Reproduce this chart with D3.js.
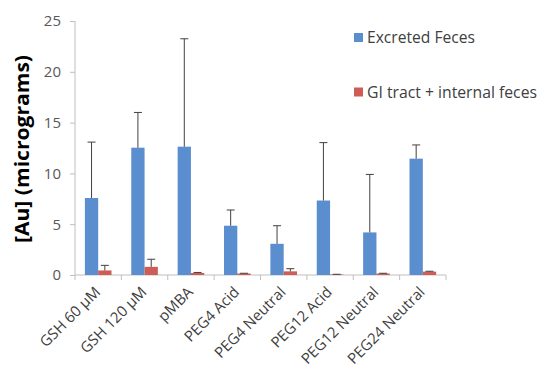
<!DOCTYPE html>
<html><head><meta charset="utf-8">
<script src="https://cdn.jsdelivr.net/npm/d3@7"></script>
<style>body{margin:0;background:#fff}svg{display:block}text{font-family:"Open Sans","Liberation Sans",sans-serif}</style>
</head><body><svg id="c" width="539" height="371"></svg>
<script>
const categories = ["GSH 60 μM","GSH 120 μM","pMBA","PEG4 Acid","PEG4 Neutral","PEG12 Acid","PEG12 Neutral","PEG24 Neutral"];
const seriesNames = ["Excreted Feces","GI tract + internal feces"];
const excreted = [7.58,12.53,12.63,4.85,3.07,7.33,4.19,11.45];
const excretedErr = [5.5,3.47,10.62,1.55,1.78,5.7,5.71,1.35];
const giTract = [0.45,0.8,0.2,0.15,0.36,0.05,0.15,0.33];
const giTractErr = [0.5,0.75,0.05,0.02,0.26,0.02,0.02,0.04];
const yTicks = [0,5,10,15,20,25];
const colors = ["#5a8ecf","#cd5d55"];

const svg = d3.select("#c");
const x = d3.scaleBand().domain(categories).range([75,446]);
const y = d3.scaleLinear().domain([0,25]).range([275,21]);
const bw = 13.3;

// axes
const ya = svg.append("g").attr("transform","translate(75,0)")
  .call(d3.axisLeft(y).tickValues(yTicks).tickSize(5).tickPadding(9));
ya.select(".domain").attr("stroke","#bfbfbf").attr("d","M0,275V21");
ya.selectAll(".tick line").attr("stroke","#bfbfbf");
ya.selectAll("text").attr("fill","#595959").style("font-size","15px").style("font-family","'Open Sans',sans-serif");

const xa = svg.append("g").attr("transform","translate(0,275)")
  .call(d3.axisBottom(x).tickSize(0).tickFormat(""));
xa.select(".domain").attr("stroke","#bfbfbf").attr("d","M75,0H446");
xa.selectAll(".tick").remove();
const edges = d3.range(categories.length+1).map(i => x.range()[0] + i*x.step());
xa.selectAll("line.edge").data(edges).join("line").attr("class","edge")
  .attr("x1",d=>d).attr("x2",d=>d).attr("y1",0).attr("y2",5).attr("stroke","#bfbfbf");

// bars
const series = [excreted, giTract];
const errs = [excretedErr, giTractErr];
series.forEach((vals,si)=>{
  const g = svg.append("g");
  g.selectAll("rect").data(vals).join("rect")
    .attr("x",(d,i)=>x(categories[i]) + x.bandwidth()/2 - bw + si*bw)
    .attr("width",bw)
    .attr("y",d=>y(d)).attr("height",d=>y(0)-y(d))
    .attr("fill",colors[si]);
  const eg = svg.append("g").attr("stroke","#404040").attr("stroke-width",1);
  vals.forEach((d,i)=>{
    const cx = x(categories[i]) + x.bandwidth()/2 - bw/2 + si*bw;
    const top = y(d + errs[si][i]);
    eg.append("line").attr("x1",cx).attr("x2",cx).attr("y1",y(d)).attr("y2",top);
    eg.append("line").attr("x1",cx-4).attr("x2",cx+4).attr("y1",top).attr("y2",top);
  });
});

// x labels
svg.append("g").selectAll("text").data(categories).join("text")
  .attr("transform",d=>`translate(${x(d)+x.bandwidth()/2+3},${293}) rotate(-45)`)
  .attr("text-anchor","end").attr("fill","#404040").style("font-size","15px")
  .text(d=>d);

// y title
svg.append("text").attr("transform","translate(29,149) rotate(-90)")
  .attr("text-anchor","middle").attr("font-weight","bold").attr("fill","#000")
  .attr("textLength",188).attr("lengthAdjust","spacingAndGlyphs")
  .style("font-size","19px").text("[Au] (micrograms)");

// legend
const lg = svg.append("g");
const legW = [108,170];
seriesNames.forEach((n,i)=>{
  const yy = 33 + i*54.5;
  lg.append("rect").attr("x",354).attr("y",yy).attr("width",9).attr("height",9).attr("fill",colors[i]);
  lg.append("text").attr("x",367).attr("y",yy+10).attr("fill","#404040").style("font-size","15.5px")
    .attr("textLength",legW[i]).attr("lengthAdjust","spacingAndGlyphs").text(n);
});
</script></body></html>
